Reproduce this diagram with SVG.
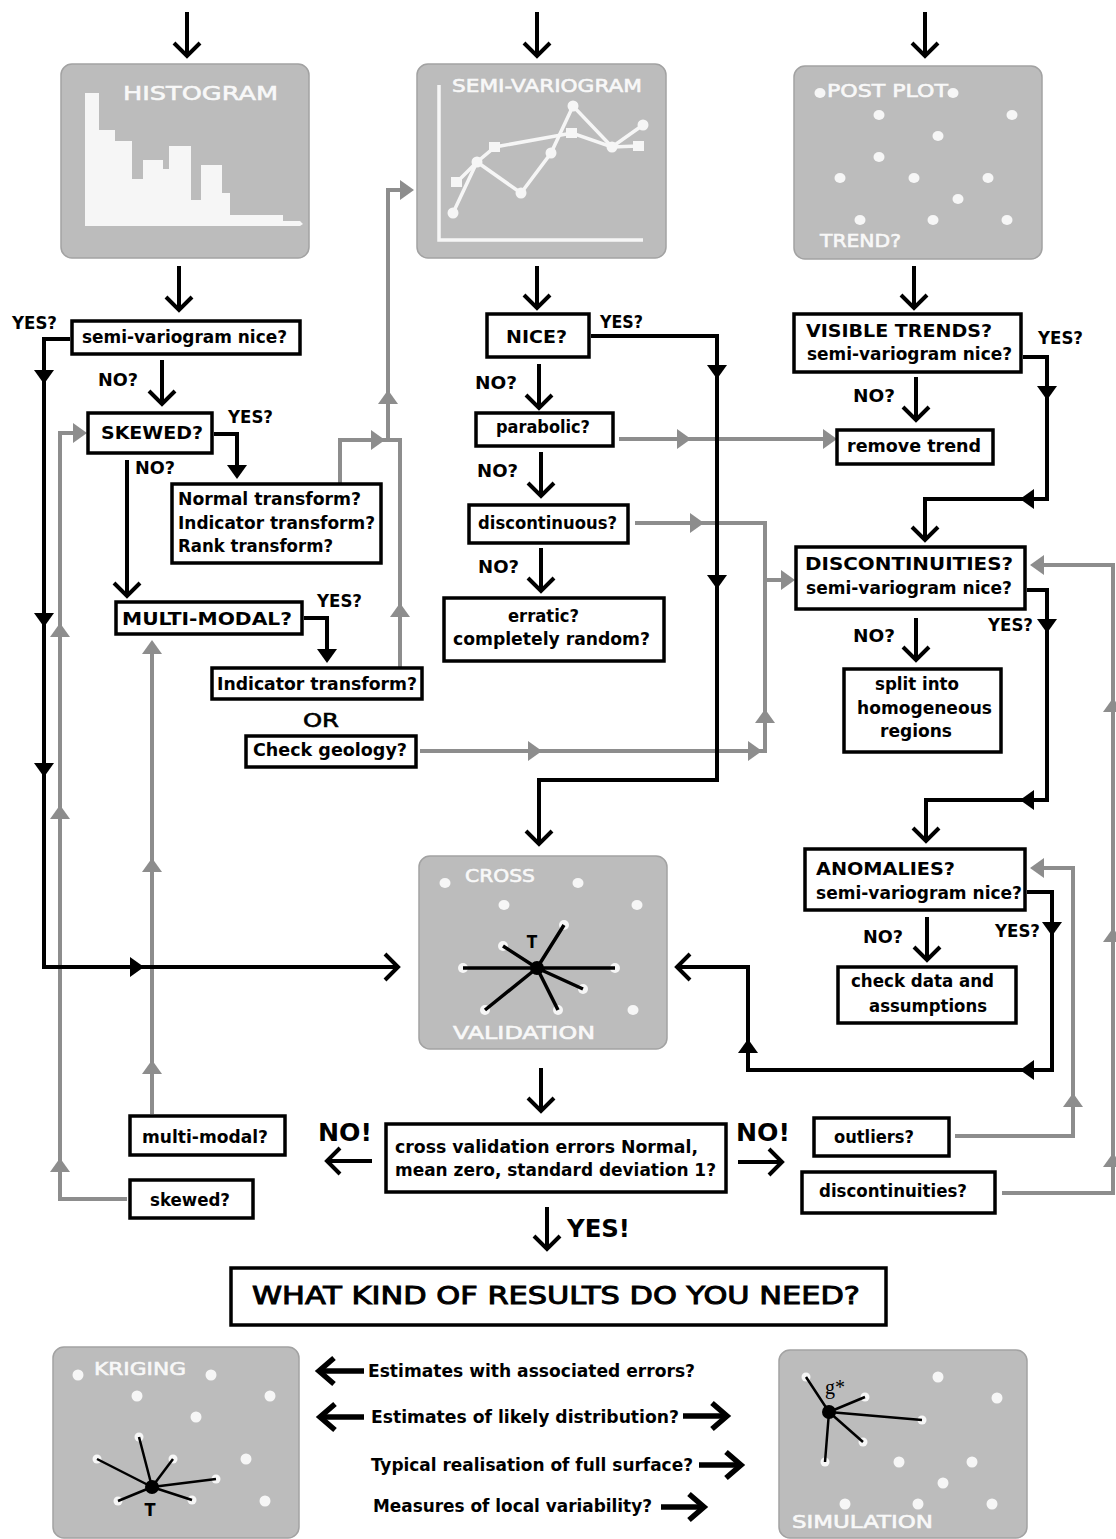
<svg xmlns="http://www.w3.org/2000/svg" width="1116" height="1539" viewBox="0 0 1116 1539">
<style>
.box{fill:#fff;stroke:#000;stroke-width:3.5}
.panel{fill:#bcbcbc;stroke:#a2a2a2;stroke-width:1.5}
.t{font-family:"DejaVu Sans Condensed","DejaVu Sans",sans-serif;font-weight:bold;font-size:18px;fill:#000}
.big{font-family:"DejaVu Sans","Liberation Sans",sans-serif;font-weight:bold;font-size:25px;fill:#000}
.big2{font-family:"DejaVu Sans","Liberation Sans",sans-serif;font-size:25px;fill:#000;stroke:#000;stroke-width:1}
.pt{font-family:"DejaVu Sans","Liberation Sans",sans-serif;font-size:18px;fill:#f8f8f8;stroke:#f8f8f8;stroke-width:0.6}
.bl{fill:none;stroke:#000;stroke-width:4}
.gl{fill:none;stroke:#8d8d8d;stroke-width:4}
.bt{fill:#000}
.gt{fill:#8d8d8d}
.wd{fill:#f6f6f6}
.wl{fill:none;stroke:#f6f6f6;stroke-width:3.5}
.sl{fill:none;stroke:#000;stroke-width:3.5}
.kl{fill:none;stroke:#000;stroke-width:2.5}
</style>
<defs>
<marker id="ch" markerUnits="userSpaceOnUse" markerWidth="40" markerHeight="40" viewBox="-20 -20 40 40" refX="0" refY="0" orient="auto" overflow="visible"><path d="M-13,-13 L0,0 L-13,13" fill="none" stroke="#000" stroke-width="4"/></marker>
<marker id="ch2" markerUnits="userSpaceOnUse" markerWidth="40" markerHeight="40" viewBox="-20 -20 40 40" refX="0" refY="0" orient="auto" overflow="visible"><path d="M-15,-13 L0,0 L-15,13" fill="none" stroke="#000" stroke-width="5.5"/></marker>
<polygon id="td" points="-10,-7 10,-7 0,7"/>
<polygon id="tu" points="-10,7 10,7 0,-7"/>
<polygon id="tr" points="-7,-10 -7,10 7,0"/>
<polygon id="tl" points="7,-10 7,10 -7,0"/>
</defs>
<rect width="1116" height="1539" fill="#fff"/>

<g id="connectors">
  <path class="gl" d="M127,1199 H60 V433 H76"/>
  <path class="gl" d="M152,1114 V646"/>
  <path class="gl" d="M340,484 V440 H400 V668"/>
  <path class="gl" d="M388,440 V190 H404"/>
  <path class="gl" d="M619,439 H828"/>
  <path class="gl" d="M635,523 H765 V751 H420"/>
  <path class="gl" d="M765,580 H786"/>
  <path class="gl" d="M955,1136 H1073 V868 H1040"/>
  <path class="gl" d="M1002,1193 H1113 V565 H1040"/>
  <g class="gt">
    <use href="#tu" x="60" y="630"/><use href="#tu" x="60" y="812"/><use href="#tu" x="60" y="1165"/>
    <use href="#tr" x="80" y="433"/>
    <use href="#tu" x="152" y="647"/><use href="#tu" x="152" y="865"/><use href="#tu" x="152" y="1067"/>
    <use href="#tr" x="378" y="440"/><use href="#tu" x="388" y="397"/><use href="#tr" x="407" y="190"/>
    <use href="#tu" x="400" y="610"/>
    <use href="#tr" x="684" y="439"/><use href="#tr" x="830" y="439"/>
    <use href="#tr" x="697" y="523"/><use href="#tr" x="535" y="751"/><use href="#tr" x="755" y="751"/>
    <use href="#tu" x="765" y="716"/><use href="#tr" x="788" y="580"/>
    <use href="#tl" x="1037" y="868"/><use href="#tu" x="1073" y="1100"/>
    <use href="#tl" x="1037" y="565"/><use href="#tu" x="1113" y="705"/><use href="#tu" x="1113" y="935"/><use href="#tu" x="1113" y="1160"/>
  </g>
  <path class="bl" marker-end="url(#ch)" d="M187,12 V56"/>
  <path class="bl" marker-end="url(#ch)" d="M537,12 V56"/>
  <path class="bl" marker-end="url(#ch)" d="M925,12 V56"/>
  <path class="bl" marker-end="url(#ch)" d="M179,266 V310"/>
  <path class="bl" marker-end="url(#ch)" d="M537,266 V308"/>
  <path class="bl" marker-end="url(#ch)" d="M914,266 V308"/>
  <path class="bl" marker-end="url(#ch)" d="M70,339 H44 V967 H398"/>
  <path class="bl" marker-end="url(#ch)" d="M162,360 V404"/>
  <path class="bl" d="M214,434 H237 V472"/>
  <path class="bl" marker-end="url(#ch)" d="M127,460 V596"/>
  <path class="bl" d="M304,618 H327 V656"/>
  <path class="bl" marker-end="url(#ch)" d="M591,336 H717 V780 H539 V844"/>
  <path class="bl" marker-end="url(#ch)" d="M539,364 V408"/>
  <path class="bl" marker-end="url(#ch)" d="M541,452 V496"/>
  <path class="bl" marker-end="url(#ch)" d="M541,548 V591"/>
  <path class="bl" marker-end="url(#ch)" d="M1023,357 H1047 V499 H925 V540"/>
  <path class="bl" marker-end="url(#ch)" d="M916,377 V420"/>
  <path class="bl" marker-end="url(#ch)" d="M1027,590 H1047 V800 H926 V841"/>
  <path class="bl" marker-end="url(#ch)" d="M916,618 V660"/>
  <path class="bl" marker-end="url(#ch)" d="M1027,892 H1052 V1070 H748 V967 H677"/>
  <path class="bl" marker-end="url(#ch)" d="M927,917 V960"/>
  <path class="bl" marker-end="url(#ch)" d="M541,1068 V1111"/>
  <path class="bl" marker-end="url(#ch)" d="M372,1161 H327"/>
  <path class="bl" marker-end="url(#ch)" d="M738,1162 H782"/>
  <path class="bl" marker-end="url(#ch)" d="M547,1207 V1249"/>
  <path class="bl" style="stroke-width:5.5" marker-end="url(#ch2)" d="M364,1371 H319"/>
  <path class="bl" style="stroke-width:5.5" marker-end="url(#ch2)" d="M364,1417 H320"/>
  <path class="bl" style="stroke-width:5.5" marker-end="url(#ch2)" d="M683,1416 H727"/>
  <path class="bl" style="stroke-width:5.5" marker-end="url(#ch2)" d="M699,1465 H741"/>
  <path class="bl" style="stroke-width:5.5" marker-end="url(#ch2)" d="M661,1507 H704"/>
  <g class="bt">
    <use href="#td" x="44" y="377"/><use href="#td" x="44" y="620"/><use href="#td" x="44" y="770"/>
    <use href="#tr" x="137" y="967"/>
    <use href="#td" x="237" y="472"/><use href="#td" x="327" y="656"/>
    <use href="#td" x="717" y="372"/><use href="#td" x="717" y="582"/>
    <use href="#td" x="1047" y="393"/><use href="#tl" x="1027" y="499"/>
    <use href="#td" x="1047" y="626"/><use href="#tl" x="1027" y="800"/>
    <use href="#td" x="1052" y="929"/><use href="#tl" x="1027" y="1070"/><use href="#tu" x="748" y="1046"/>
  </g>
</g>

<g id="histogram">
  <rect class="panel" x="61" y="64" width="248" height="194" rx="11"/>
  <polygon class="wd" points="85,93 99,93 99,130 115,130 115,141 132,141 132,179 143,179 143,160 163,160 163,169 169,169 169,146 191,146 191,200 201,200 201,165 222,165 222,193 230,193 230,215 283,215 283,221 300,221 303,224 300,226 85,226"/>
  <text class="pt" style="font-size:20px" x="123" y="100" textLength="155" lengthAdjust="spacingAndGlyphs">HISTOGRAM</text>
</g>

<g id="semivariogram">
  <rect class="panel" x="417" y="64" width="249" height="194" rx="11"/>
  <path class="wl" d="M439,85 V240 H643"/>
  <polyline class="wl" points="453,213 477,162 521,193 551,153 573,106 612,147 643,125"/>
  <polyline class="wl" points="457,182 477,162 495,147 572,133 612,147 638,146"/>
  <g class="wd">
    <circle cx="453" cy="213" r="5.5"/><circle cx="477" cy="162" r="5.5"/><circle cx="521" cy="193" r="5.5"/><circle cx="551" cy="153" r="5.5"/><circle cx="573" cy="106" r="5.5"/><circle cx="612" cy="147" r="5.5"/><circle cx="643" cy="125" r="5.5"/>
    <rect x="451" y="177" width="11" height="10"/><rect x="489" y="142" width="11" height="10"/><rect x="566" y="128" width="11" height="10"/><rect x="633" y="141" width="11" height="10"/>
  </g>
  <text class="pt" x="452" y="92" textLength="190" lengthAdjust="spacingAndGlyphs">SEMI-VARIOGRAM</text>
</g>

<g id="postplot">
  <rect class="panel" x="794" y="66" width="248" height="193" rx="11"/>
  <g class="wd">
    <ellipse cx="820" cy="93" rx="5.5" ry="5"/><ellipse cx="953" cy="93" rx="5.5" ry="5"/>
    <ellipse cx="879" cy="115" rx="5.5" ry="5"/><ellipse cx="1012" cy="115" rx="5.5" ry="5"/>
    <ellipse cx="938" cy="136" rx="5.5" ry="5"/><ellipse cx="879" cy="157" rx="5.5" ry="5"/>
    <ellipse cx="840" cy="178" rx="5.5" ry="5"/><ellipse cx="914" cy="178" rx="5.5" ry="5"/><ellipse cx="988" cy="178" rx="5.5" ry="5"/>
    <ellipse cx="958" cy="199" rx="5.5" ry="5"/>
    <ellipse cx="860" cy="220" rx="5.5" ry="5"/><ellipse cx="933" cy="220" rx="5.5" ry="5"/><ellipse cx="1007" cy="220" rx="5.5" ry="5"/>
  </g>
  <text class="pt" x="827" y="97" textLength="121" lengthAdjust="spacingAndGlyphs">POST PLOT</text>
  <text class="pt" x="820" y="247" textLength="81" lengthAdjust="spacingAndGlyphs">TREND?</text>
</g>

<g id="yes-left"><text class="t" x="12" y="329" textLength="45" lengthAdjust="spacingAndGlyphs">YES?</text></g>
<g id="sv-nice-1">
  <rect class="box" x="72" y="321" width="228" height="33"/>
  <text class="t" x="82" y="343" textLength="205" lengthAdjust="spacingAndGlyphs">semi-variogram nice?</text>
</g>
<g id="labels-left">
  <text class="t" x="98" y="386" textLength="40" lengthAdjust="spacingAndGlyphs">NO?</text>
  <text class="t" x="228" y="423" textLength="45" lengthAdjust="spacingAndGlyphs">YES?</text>
  <text class="t" x="135" y="474" textLength="40" lengthAdjust="spacingAndGlyphs">NO?</text>
  <text class="t" x="317" y="607" textLength="45" lengthAdjust="spacingAndGlyphs">YES?</text>
</g>
<g id="skewed-1">
  <rect class="box" x="88" y="413" width="124" height="40"/>
  <text class="t" x="101" y="439" textLength="102" lengthAdjust="spacingAndGlyphs">SKEWED?</text>
</g>
<g id="transforms">
  <rect class="box" x="172" y="484" width="209" height="79"/>
  <text class="t" x="178" y="505" textLength="183" lengthAdjust="spacingAndGlyphs">Normal transform?</text>
  <text class="t" x="178" y="529" textLength="197" lengthAdjust="spacingAndGlyphs">Indicator transform?</text>
  <text class="t" x="178" y="552" textLength="155" lengthAdjust="spacingAndGlyphs">Rank transform?</text>
</g>
<g id="multimodal-1">
  <rect class="box" x="116" y="602" width="186" height="32"/>
  <text class="t" x="122" y="625" textLength="170" lengthAdjust="spacingAndGlyphs">MULTI-MODAL?</text>
</g>
<g id="indicator">
  <rect class="box" x="212" y="668" width="210" height="31"/>
  <text class="t" x="217" y="690" textLength="200" lengthAdjust="spacingAndGlyphs">Indicator transform?</text>
</g>
<g id="or"><text class="t" style="font-weight:normal;font-size:20px;stroke:#000;stroke-width:0.6" x="303" y="727" textLength="36" lengthAdjust="spacingAndGlyphs">OR</text></g>
<g id="geology">
  <rect class="box" x="246" y="736" width="170" height="31"/>
  <text class="t" x="253" y="756" textLength="154" lengthAdjust="spacingAndGlyphs">Check geology?</text>
</g>

<g id="nice">
  <rect class="box" x="487" y="314" width="102" height="43"/>
  <text class="t" x="506" y="343" textLength="61" lengthAdjust="spacingAndGlyphs">NICE?</text>
</g>
<g id="labels-mid">
  <text class="t" x="600" y="328" textLength="43" lengthAdjust="spacingAndGlyphs">YES?</text>
  <text class="t" x="475" y="389" textLength="42" lengthAdjust="spacingAndGlyphs">NO?</text>
  <text class="t" x="477" y="477" textLength="41" lengthAdjust="spacingAndGlyphs">NO?</text>
  <text class="t" x="478" y="573" textLength="41" lengthAdjust="spacingAndGlyphs">NO?</text>
</g>
<g id="parabolic">
  <rect class="box" x="476" y="413" width="137" height="33"/>
  <text class="t" x="496" y="433" textLength="94" lengthAdjust="spacingAndGlyphs">parabolic?</text>
</g>
<g id="discontinuous">
  <rect class="box" x="469" y="505" width="159" height="38"/>
  <text class="t" x="478" y="529" textLength="139" lengthAdjust="spacingAndGlyphs">discontinuous?</text>
</g>
<g id="erratic">
  <rect class="box" x="444" y="598" width="220" height="63"/>
  <text class="t" x="508" y="622" textLength="71" lengthAdjust="spacingAndGlyphs">erratic?</text>
  <text class="t" x="453" y="645" textLength="197" lengthAdjust="spacingAndGlyphs">completely random?</text>
</g>

<g id="visible-trends">
  <rect class="box" x="794" y="314" width="227" height="58"/>
  <text class="t" x="806" y="337" textLength="186" lengthAdjust="spacingAndGlyphs">VISIBLE TRENDS?</text>
  <text class="t" x="807" y="360" textLength="205" lengthAdjust="spacingAndGlyphs">semi-variogram nice?</text>
</g>
<g id="labels-right">
  <text class="t" x="1038" y="344" textLength="45" lengthAdjust="spacingAndGlyphs">YES?</text>
  <text class="t" x="853" y="402" textLength="42" lengthAdjust="spacingAndGlyphs">NO?</text>
  <text class="t" x="988" y="631" textLength="45" lengthAdjust="spacingAndGlyphs">YES?</text>
  <text class="t" x="853" y="642" textLength="42" lengthAdjust="spacingAndGlyphs">NO?</text>
  <text class="t" x="863" y="943" textLength="40" lengthAdjust="spacingAndGlyphs">NO?</text>
  <text class="t" x="995" y="937" textLength="45" lengthAdjust="spacingAndGlyphs">YES?</text>
</g>
<g id="remove-trend">
  <rect class="box" x="837" y="430" width="156" height="34"/>
  <text class="t" x="847" y="452" textLength="134" lengthAdjust="spacingAndGlyphs">remove trend</text>
</g>
<g id="discontinuities-1">
  <rect class="box" x="796" y="547" width="229" height="62"/>
  <text class="t" x="805" y="570" textLength="208" lengthAdjust="spacingAndGlyphs">DISCONTINUITIES?</text>
  <text class="t" x="806" y="594" textLength="206" lengthAdjust="spacingAndGlyphs">semi-variogram nice?</text>
</g>
<g id="split">
  <rect class="box" x="844" y="669" width="157" height="83"/>
  <text class="t" x="875" y="690" textLength="84" lengthAdjust="spacingAndGlyphs">split into</text>
  <text class="t" x="857" y="714" textLength="135" lengthAdjust="spacingAndGlyphs">homogeneous</text>
  <text class="t" x="880" y="737" textLength="72" lengthAdjust="spacingAndGlyphs">regions</text>
</g>
<g id="anomalies">
  <rect class="box" x="805" y="849" width="220" height="61"/>
  <text class="t" x="816" y="875" textLength="139" lengthAdjust="spacingAndGlyphs">ANOMALIES?</text>
  <text class="t" x="816" y="899" textLength="206" lengthAdjust="spacingAndGlyphs">semi-variogram nice?</text>
</g>
<g id="check-data">
  <rect class="box" x="838" y="967" width="178" height="56"/>
  <text class="t" x="851" y="987" textLength="143" lengthAdjust="spacingAndGlyphs">check data and</text>
  <text class="t" x="869" y="1012" textLength="118" lengthAdjust="spacingAndGlyphs">assumptions</text>
</g>

<g id="cross-validation">
  <rect class="panel" x="419" y="856" width="248" height="193" rx="11"/>
  <g class="wd">
    <ellipse cx="445" cy="883" rx="5.5" ry="5"/><ellipse cx="578" cy="883" rx="5.5" ry="5"/>
    <ellipse cx="504" cy="905" rx="5.5" ry="5"/><ellipse cx="637" cy="905" rx="5.5" ry="5"/><ellipse cx="633" cy="1010" rx="5.5" ry="5"/>
    <circle cx="463" cy="968" r="5"/><circle cx="615" cy="968" r="5"/><circle cx="503" cy="946" r="5"/><circle cx="564" cy="925" r="5"/><circle cx="583" cy="989" r="5"/><circle cx="485" cy="1010" r="5"/><circle cx="558" cy="1010" r="5"/>
  </g>
  <path class="sl" d="M463,968 H615 M537,968 L503,946 M537,968 L564,925 M537,968 L583,989 M537,968 L485,1010 M537,968 L558,1010"/>
  <circle cx="537" cy="968" r="7" class="bt"/>
  <text class="t" style="font-size:17px" x="532" y="948" text-anchor="middle">T</text>
  <text class="pt" x="465" y="882" textLength="70" lengthAdjust="spacingAndGlyphs">CROSS</text>
  <text class="pt" x="453" y="1039" textLength="142" lengthAdjust="spacingAndGlyphs">VALIDATION</text>
</g>

<g id="multimodal-2">
  <rect class="box" x="130" y="1116" width="155" height="39"/>
  <text class="t" x="142" y="1143" textLength="126" lengthAdjust="spacingAndGlyphs">multi-modal?</text>
</g>
<g id="skewed-2">
  <rect class="box" x="130" y="1180" width="123" height="38"/>
  <text class="t" x="150" y="1206" textLength="80" lengthAdjust="spacingAndGlyphs">skewed?</text>
</g>
<g id="no-left"><text class="big" x="318" y="1141" textLength="54" lengthAdjust="spacingAndGlyphs">NO!</text></g>
<g id="cv-errors">
  <rect class="box" x="386" y="1124" width="340" height="68"/>
  <text class="t" x="395" y="1153" textLength="303" lengthAdjust="spacingAndGlyphs">cross validation errors Normal,</text>
  <text class="t" x="395" y="1176" textLength="321" lengthAdjust="spacingAndGlyphs">mean zero, standard deviation 1?</text>
</g>
<g id="no-right"><text class="big" x="736" y="1141" textLength="54" lengthAdjust="spacingAndGlyphs">NO!</text></g>
<g id="outliers">
  <rect class="box" x="814" y="1118" width="135" height="38"/>
  <text class="t" x="834" y="1143" textLength="80" lengthAdjust="spacingAndGlyphs">outliers?</text>
</g>
<g id="discontinuities-2">
  <rect class="box" x="802" y="1172" width="193" height="41"/>
  <text class="t" x="819" y="1197" textLength="148" lengthAdjust="spacingAndGlyphs">discontinuities?</text>
</g>
<g id="yes-bottom"><text class="big" x="567" y="1237" textLength="63" lengthAdjust="spacingAndGlyphs">YES!</text></g>
<g id="results">
  <rect class="box" x="231" y="1268" width="655" height="57"/>
  <text class="big2" x="252" y="1304" textLength="608" lengthAdjust="spacingAndGlyphs">WHAT KIND OF RESULTS DO YOU NEED?</text>
</g>

<g id="kriging">
  <rect class="panel" x="53" y="1347" width="246" height="191" rx="11"/>
  <g class="wd">
    <circle cx="78" cy="1375" r="5.5"/><circle cx="211" cy="1375" r="5.5"/><circle cx="137" cy="1396" r="5.5"/><circle cx="270" cy="1396" r="5.5"/><circle cx="196" cy="1417" r="5.5"/><circle cx="246" cy="1459" r="5.5"/><circle cx="265" cy="1501" r="5.5"/>
    <circle cx="139" cy="1437" r="4.5"/><circle cx="97" cy="1459" r="4.5"/><circle cx="173" cy="1459" r="4.5"/><circle cx="216" cy="1479" r="4.5"/><circle cx="118" cy="1501" r="4.5"/><circle cx="192" cy="1500" r="4.5"/>
  </g>
  <path class="kl" d="M152,1487 L139,1437 M152,1487 L97,1459 M152,1487 L173,1459 M152,1487 L216,1479 M152,1487 L118,1501 M152,1487 L192,1500"/>
  <circle cx="152" cy="1487" r="7" class="bt"/>
  <text class="t" x="150" y="1516" text-anchor="middle">T</text>
  <text class="pt" x="94" y="1375" textLength="92" lengthAdjust="spacingAndGlyphs">KRIGING</text>
</g>

<g id="questions">
  <text class="t" x="368" y="1377" textLength="327" lengthAdjust="spacingAndGlyphs">Estimates with associated errors?</text>
  <text class="t" x="371" y="1423" textLength="308" lengthAdjust="spacingAndGlyphs">Estimates of likely distribution?</text>
  <text class="t" x="371" y="1471" textLength="322" lengthAdjust="spacingAndGlyphs">Typical realisation of full surface?</text>
  <text class="t" x="373" y="1512" textLength="279" lengthAdjust="spacingAndGlyphs">Measures of local variability?</text>
</g>

<g id="simulation">
  <rect class="panel" x="779" y="1350" width="248" height="188" rx="11"/>
  <g class="wd">
    <circle cx="938" cy="1377" r="5.5"/><circle cx="997" cy="1398" r="5.5"/><circle cx="899" cy="1462" r="5.5"/><circle cx="972" cy="1462" r="5.5"/><circle cx="943" cy="1483" r="5.5"/><circle cx="845" cy="1504" r="5.5"/><circle cx="918" cy="1504" r="5.5"/><circle cx="992" cy="1504" r="5.5"/>
    <circle cx="806" cy="1377" r="4.5"/><circle cx="865" cy="1397" r="4.5"/><circle cx="922" cy="1420" r="4.5"/><circle cx="863" cy="1442" r="4.5"/><circle cx="825" cy="1462" r="4.5"/>
  </g>
  <path class="kl" d="M829,1412 L806,1377 M829,1412 L865,1397 M829,1412 L922,1420 M829,1412 L863,1442 M829,1412 L825,1462"/>
  <circle cx="829" cy="1412" r="7" class="bt"/>
  <text x="825" y="1394" style="font-family:'Liberation Serif',serif;font-size:20px;fill:#000">g*</text>
  <text class="pt" x="792" y="1528" textLength="141" lengthAdjust="spacingAndGlyphs">SIMULATION</text>
</g>
</svg>
